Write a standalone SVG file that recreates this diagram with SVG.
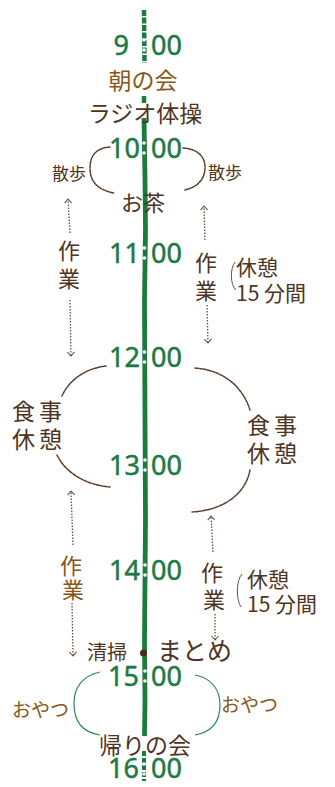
<svg xmlns="http://www.w3.org/2000/svg" width="335" height="787" viewBox="0 0 335 787">
<defs>
<style>
.t{font-family:"Noto Sans CJK JP","Noto Sans",sans-serif;}
.tm{font-family:"Noto Sans","Noto Sans CJK JP",sans-serif;font-size:27px;fill:#1d7a43;stroke:#1d7a43;stroke-width:0.5;}
.br{fill:#4e3422;}
.or{fill:#87561a;}
.cur{fill:none;stroke:#5a3f2c;stroke-width:1.5;stroke-dasharray:3 1.2;stroke-linecap:round;}
.gcur{fill:none;stroke:#2d8a55;stroke-width:1.2;}
.arr{fill:none;stroke:#6a5040;stroke-width:1.3;stroke-dasharray:1.6 1.4;marker-end:url(#ah);}
.dot{fill:#ffffff;}
</style>
<marker id="ah" markerWidth="10" markerHeight="10" refX="0" refY="0" viewBox="-6 -5 8 10" orient="auto" markerUnits="userSpaceOnUse">
<path d="M-4,-3.5 L0,0 L-4,3.5" fill="none" stroke="#6a5040" stroke-width="1.1"/>
</marker>
</defs>
<rect width="335" height="787" fill="#ffffff"/>

<g id="timeline">
<path d="M144,10 L144.5,63" stroke="#1b7a3e" stroke-width="4.5" fill="none" stroke-dasharray="6 1.5"/>
<path d="M144,96 L144,103" stroke="#1b7a3e" stroke-width="4.5" fill="none"/>
<path d="M144,118 L145,180 L145.5,230 L144.5,300 L145,420 L145.5,520 L144.5,640 L145,700 L144.5,736" stroke="#1b7a3e" stroke-width="4.8" fill="none"/>
<path d="M144,751 L144,781" stroke="#1b7a3e" stroke-width="4" fill="none" stroke-dasharray="5 2"/>
</g>

<g id="connectors">
<path class="cur" d="M110,147 C96,148 90,156 90,168 C90,182 98,190 114,193"/>
<path class="cur" d="M183,148 C198,149 205,157 205,167 C205,180 197,187 185,190"/>
<path class="cur" d="M106,366 C88,368 70,378 62,396"/>
<path class="cur" d="M57,455 C65,472 85,485 110,487"/>
<path class="cur" d="M195,368 C222,370 242,385 250,410"/>
<path class="cur" d="M250,470 C246,492 226,510 192,512"/>
<path class="gcur" d="M100,672 C82,676 74,688 74,703 C74,722 82,732 100,735"/>
<path class="gcur" d="M195,675 C212,678 220,690 220,705 C220,722 212,732 195,735"/>
<path fill="none" stroke="#6a5040" stroke-width="1" d="M235,262 C230,268 230,285 236,290"/>
<path fill="none" stroke="#6a5040" stroke-width="1" d="M242,574 C236,580 236,600 241,607"/>
<path class="arr" d="M70,233 L68,199"/>
<path class="arr" d="M70,300 L71,356"/>
<path class="arr" d="M205,240 L204,206"/>
<path class="arr" d="M207,305 L208,343"/>
<path class="arr" d="M73,545 L71,491"/>
<path class="arr" d="M72,603 L73,656"/>
<path class="arr" d="M213,552 L211,516"/>
<path class="arr" d="M215,614 L215,640"/>
</g>

<g id="t0900"><text class="tm" x="129" y="55" text-anchor="end">9</text><text class="tm" x="151" y="55">00</text><circle class="dot" cx="144" cy="40" r="1.8"/><circle class="dot" cx="144" cy="50" r="1.8"/></g>
<g id="t1000"><text class="tm" x="140" y="158" text-anchor="end">10</text><text class="tm" x="151" y="158">00</text><circle class="dot" cx="144" cy="143" r="1.8"/><circle class="dot" cx="144" cy="153" r="1.8"/></g>
<g id="t1100"><text class="tm" x="140" y="263" text-anchor="end">11</text><text class="tm" x="151" y="263">00</text><circle class="dot" cx="144.5" cy="248" r="1.8"/><circle class="dot" cx="144.5" cy="258" r="1.8"/></g>
<g id="t1200"><text class="tm" x="140" y="367" text-anchor="end">12</text><text class="tm" x="151" y="367">00</text><circle class="dot" cx="144.5" cy="352" r="1.8"/><circle class="dot" cx="144.5" cy="362" r="1.8"/></g>
<g id="t1300"><text class="tm" x="140" y="475" text-anchor="end">13</text><text class="tm" x="151" y="475">00</text><circle class="dot" cx="145" cy="460" r="1.8"/><circle class="dot" cx="145" cy="470" r="1.8"/></g>
<g id="t1400"><text class="tm" x="140" y="580" text-anchor="end">14</text><text class="tm" x="151" y="580">00</text><circle class="dot" cx="145" cy="565" r="1.8"/><circle class="dot" cx="145" cy="575" r="1.8"/></g>
<g id="t1500"><text class="tm" x="139" y="686" text-anchor="end">15</text><text class="tm" x="151" y="686">00</text><circle class="dot" cx="145" cy="671" r="1.8"/><circle class="dot" cx="145" cy="681" r="1.8"/></g>
<g id="t1600"><text class="tm" x="139" y="778" text-anchor="end" font-size="26">16</text><text class="tm" x="151" y="778" font-size="26">00</text><circle class="dot" cx="144" cy="764" r="1.8"/><circle class="dot" cx="144" cy="774" r="1.8"/></g>

<g id="asa"><text class="t or" x="143" y="89" font-size="23" text-anchor="middle">朝の会</text></g>
<g id="radio"><text class="t br" x="145" y="122" font-size="23" text-anchor="middle">ラジオ体操</text></g>
<g id="sanpo-l"><text class="t br" x="52" y="180" font-size="17">散歩</text></g>
<g id="sanpo-r"><text class="t br" x="208" y="179" font-size="17">散歩</text></g>
<g id="ocha"><text class="t br" x="121" y="211" font-size="22">お茶</text></g>

<g id="sagyo1"><text class="t br" x="58" y="259" font-size="22">作</text><text class="t br" x="58" y="287" font-size="22">業</text></g>
<g id="sagyo2"><text class="t br" x="195" y="271" font-size="22">作</text><text class="t br" x="195" y="299" font-size="22">業</text></g>
<g id="kyukei1"><text class="t br" x="236" y="275" font-size="21">休憩</text><text class="t br" x="236" y="301" font-size="21">15 分間</text></g>

<g id="shokuji-l"><text class="t br" x="12" y="420" font-size="23" letter-spacing="4">食事</text><text class="t br" x="12" y="448" font-size="23" letter-spacing="4">休憩</text></g>
<g id="shokuji-r"><text class="t br" x="247" y="434" font-size="23" letter-spacing="4">食事</text><text class="t br" x="247" y="462" font-size="23" letter-spacing="4">休憩</text></g>

<g id="sagyo3"><text class="t or" x="60" y="574" font-size="22">作</text><text class="t or" x="62" y="598" font-size="22">業</text></g>
<g id="sagyo4"><text class="t br" x="201" y="581" font-size="22">作</text><text class="t br" x="203" y="608" font-size="22">業</text></g>
<g id="kyukei2"><text class="t br" x="247" y="587" font-size="21">休憩</text><text class="t br" x="247" y="612" font-size="21">15 分間</text></g>

<g id="seiso"><text class="t br" x="87" y="660" font-size="20">清掃</text><circle cx="143.5" cy="653" r="3.5" fill="#4e2c1c"/></g>
<g id="matome"><text class="t br" x="157" y="660" font-size="25">まとめ</text></g>

<g id="oyatsu-l"><text class="t or" x="12" y="717" font-size="19">おやつ</text></g>
<g id="oyatsu-r"><text class="t or" x="221" y="712" font-size="19">おやつ</text></g>
<g id="kaeri"><text class="t br" x="145" y="754" font-size="23" text-anchor="middle">帰りの会</text></g>
</svg>
